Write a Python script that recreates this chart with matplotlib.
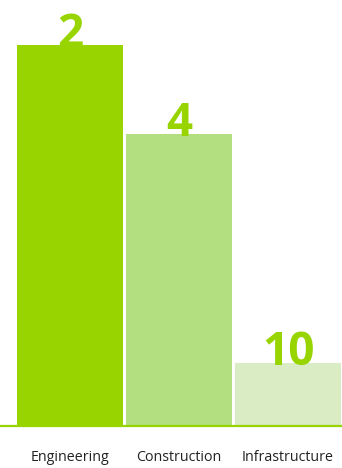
import matplotlib
matplotlib.use("Agg")
import matplotlib.pyplot as plt

# data
categories = ["Engineering", "Construction", "Infrastructure"]
heights = [100.0, 76.6, 16.5]      # relative bar height (%)
ranks = ["2", "4", "10"]           # number printed on each bar

C_MAIN = "#97d400"
bar_colors = [C_MAIN, "#b3df80", "#d9ecc3"]

fig = plt.figure(figsize=(3.42, 4.68), dpi=100)
ax = fig.add_axes([0, 0.0897, 1, 0.9103])

x = range(len(categories))
bars = ax.bar(list(x), heights, width=0.98, color=bar_colors, edgecolor="none")

for b, r in zip(bars, ranks):
    ax.annotate(r, (b.get_x() + b.get_width() / 2, b.get_height()),
                xytext=(0, -1.5), textcoords="offset points",
                ha="center", va="baseline", fontsize=33, fontweight="bold",
                color=C_MAIN, family="Open Sans")

ax.axhline(0, color=C_MAIN, lw=1.6, clip_on=False)
ax.set_xlim(-0.642, 2.495)
ax.set_ylim(0, 111.7)
for s in ax.spines.values():
    s.set_visible(False)
ax.set_yticks([])
ax.set_xticks(list(x))
ax.set_xticklabels(categories, fontsize=10.3, color="#222222", family="Open Sans")
ax.tick_params(axis="x", length=0, pad=17)

fig.savefig("out.png", dpi=100)
